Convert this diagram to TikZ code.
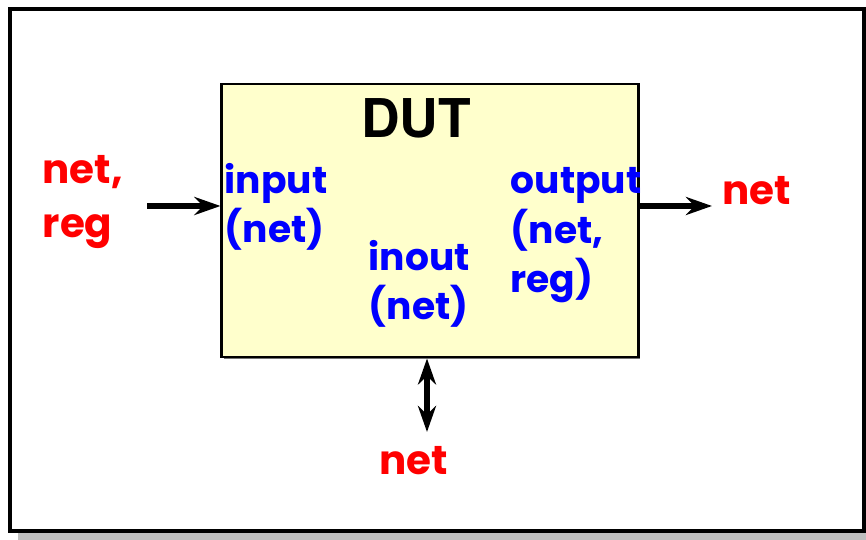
\documentclass[tikz,border=0pt]{standalone}
\usepackage{fontspec}
\usetikzlibrary{arrows.meta}
\newfontfamily\handfont{Poppins}
\newfontfamily\dutfont{TeX Gyre Heros}
\definecolor{dutfill}{RGB}{255,255,204}
\definecolor{portblue}{RGB}{0,0,255}
\definecolor{sigred}{RGB}{255,0,0}
\tikzset{every node/.style={draw=none,inner sep=0pt},
  port/.style={text=portblue,font=\handfont\bfseries\fontsize{10.7}{14.2}\selectfont,align=left,anchor=base west},
  sig/.style={text=sigred,font=\handfont\bfseries\fontsize{11.5}{15.5}\selectfont,align=left,anchor=base west},
  wire/.style={line width=1.6pt,>={Stealth[length=2.6mm,width=1.8mm]}}}

\begin{document}
\begin{tikzpicture}[x=0.01cm,y=-0.01cm]
  \useasboundingbox (0,0) rectangle (866,540);
  % frame with shadow
  \fill[black!25] (18,17) rectangle (866,540);
  \draw[line width=1pt,fill=white] (10,9) rectangle (864,531);
  \fill[black!55] (224,86) rectangle (640,359);
      \node[draw,fill=dutfill,line width=0.8pt,minimum width=4.16cm,minimum height=2.73cm] (dut) at (430,220.5) {};
      \node[font=\dutfont\bfseries\fontsize{15.2}{18}\selectfont,anchor=base] (name) at (416,138) {DUT};
      \node[port] (in) at (224,243) {input\\(net)};
      \node[port] (io) at (368,320) {inout\\(net)};
      \node[port] (out) at (510,293) {output\\(net,\\reg)};
      \node[sig] (inrt) at (42,238) {net,\\reg};
      \node[sig] (outrt) at (722,205) {net};
      \node[sig,anchor=base] (iort) at (414,475) {net};

  \coordinate (a) at (147,206);
  \coordinate (b) at (712,206);
  \coordinate (c) at (427,432);
\draw[wire,->] (a) -- (a -| dut.west);
\draw[wire,->] (b -| dut.east) -- (b);
\draw[wire,<->] (dut.south -| c) -- (c);
    \end{tikzpicture}
\end{document}
